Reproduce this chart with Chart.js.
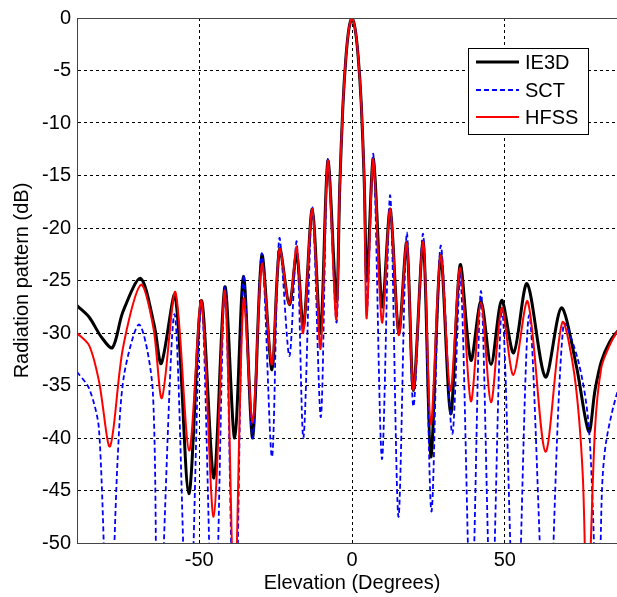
<!DOCTYPE html>
<html>
<head>
<meta charset="utf-8">
<script src="https://cdn.jsdelivr.net/npm/chart.js@4/dist/chart.umd.min.js"></script>
<style>
  html, body { margin: 0; padding: 0; background: #fff; overflow: hidden; }
  #wrap { width: 640px; height: 597px; }
</style>
</head>
<body>
<div id="wrap"><canvas id="c" width="640" height="597"></canvas></div>
<script>
'use strict';

// tick labels
var xTicks = [-50, 0, 50];
var yMin = -50, yMax = 0, yStep = 5;

// series as [elevation deg, dB]
var ie3d = [
  [-90,-27.4],[-86,-28.5],[-82,-30.4],[-78.4,-31.4],[-75,-28],[-69.2,-24.8],[-64.7,-29.3],[-62.4,-32.9],
  [-57.9,-26.4],[-53.4,-45.3],[-49.3,-26.9],[-45.2,-43.8],[-41.6,-25.6],[-38.4,-40],[-35.5,-24.6],
  [-32.5,-40],[-29.5,-22.6],[-26.2,-33.5],[-23.7,-22],[-20.5,-27.3],[-18.1,-22.4],[-15.9,-29.5],
  [-13,-18.2],[-10.3,-30],[-7.9,-13.6],[-5.1,-27],[-4,-16],[-3,-8.5],[-2,-3.8],[-1,-1],[0,0],
  [1,-1],[2,-3.6],[3,-8],[4,-15.5],[4.9,-25],[7,-13.4],[9.9,-27.5],[12.5,-18.2],[15.3,-30],
  [17.9,-21.4],[20.1,-35.5],[23.3,-21.3],[25.8,-41.8],[29,-22.6],[32.3,-37.7],[35.4,-23.5],
  [38.9,-32.6],[42.2,-27],[45.5,-33],[49,-26.9],[52.9,-31.9],[57.3,-25.3],[63.3,-34.2],
  [68.5,-27.6],[73.4,-33.1],[77.5,-39.4],[79.5,-35.5],[81.6,-32.7],[84.4,-30.8],[87,-29.8],[90,-29]
];
var sct = [
  [-90,-33.7],[-86,-35.3],[-82.8,-39.2],[-79.6,-62],[-76.7,-42],[-74.6,-34],[-69.6,-29.2],[-65.2,-35.5],
  [-63.5,-62],[-58.1,-28.2],[-53.5,-62],[-49.3,-26.9],[-45.2,-62],[-41.6,-25.6],[-38.4,-62],
  [-35.5,-24.6],[-32.5,-40],[-29.5,-22.4],[-26.2,-41.8],[-23.8,-21],[-20.5,-32.2],[-18.1,-21.3],
  [-15.9,-40],[-13,-18],[-10.2,-38],[-7.9,-13.4],[-5.1,-29],[-4,-16],[-3,-8.5],[-2,-3.8],[-1,-1],
  [0,0],[1,-1],[2,-3.6],[3,-8],[4,-15.5],[4.9,-28],[7,-13],[9.8,-42],[12.5,-16.9],[15.2,-47.5],
  [17.9,-20.5],[20.1,-37],[23.3,-20.6],[26,-47],[29,-21.7],[32.8,-39.6],[35.5,-24.5],[39,-58],
  [42.2,-26],[45.6,-58],[49.1,-27.7],[53.6,-62],[58,-28.3],[63.8,-62],[69.2,-29.2],[73.9,-32.5],
  [77.2,-38],[78.8,-46.6],[80.5,-62],[81.8,-45],[83.2,-40.3],[87,-35.5],[90,-34]
];
var hfss = [
  [-90,-30],[-86,-31.2],[-82.8,-34.6],[-79.2,-40.8],[-75,-31.5],[-69.1,-25.4],[-65,-29.5],[-62.2,-36.2],
  [-57.8,-26.1],[-53.3,-41.2],[-49.3,-26.9],[-45.3,-47.5],[-41.6,-26],[-38.5,-56],[-35.5,-26.8],
  [-32.5,-38.5],[-29.5,-23.4],[-26.2,-33],[-23.7,-22],[-20.5,-27.3],[-18.1,-21.8],[-16,-30],
  [-13,-18.2],[-10.3,-31.5],[-7.9,-13.6],[-5.2,-28.7],[-4,-16],[-3,-8.5],[-2,-3.8],[-1,-1],[0,0],
  [1,-1],[2,-3.6],[3,-8],[4,-15.5],[4.8,-28.6],[7,-13.4],[9.8,-29],[12.5,-18.2],[15.3,-30.2],
  [17.9,-21.4],[20.1,-35.5],[23.3,-21.3],[25.8,-38.7],[29,-22.6],[32.2,-35.5],[35.4,-23.8],
  [38.9,-36.5],[42.2,-27.1],[45.5,-36.6],[49,-27.6],[52.8,-34],[57.5,-27],[63.3,-41.3],[68.8,-29],
  [72.8,-34],[75.5,-43.4],[77,-58],[79.5,-39.3],[81.6,-33.3],[84.3,-31.2],[87,-29.8],[90,-29]
];

var FONT = '"Liberation Sans", Arial, Helvetica, sans-serif';

function toXY(arr) {
  return arr.map(function (p) { return { x: p[0], y: p[1] }; });
}

var series = [
  { label: 'IE3D', data: ie3d, color: '#000000', width: 3, dash: [], order: 3 },
  { label: 'SCT',  data: sct,  color: '#0000ff', width: 1.8, dash: [5, 3], order: 2 },
  { label: 'HFSS', data: hfss, color: '#ff0000', width: 2, dash: [], order: 1 }
];

// frame, legend box and axis titles
var decor = {
  id: 'decor',
  afterDatasetsDraw: function (chart) {
    var ctx = chart.ctx, a = chart.chartArea;
    ctx.save();
    ctx.strokeStyle = '#444';
    ctx.lineWidth = 1;
    ctx.strokeRect(a.left + 0.5, a.top + 0.5, a.right - a.left, a.bottom - a.top);
    ctx.restore();
  },
  afterDraw: function (chart) {
    var ctx = chart.ctx, a = chart.chartArea;
    ctx.save();
    // legend
    ctx.fillStyle = '#fff';
    ctx.fillRect(468, 48, 120, 86);
    ctx.strokeStyle = '#000';
    ctx.lineWidth = 1;
    ctx.strokeRect(468.5, 48.5, 120, 86);
    var rows = [62, 90, 117];
    series.forEach(function (s, i) {
      ctx.beginPath();
      ctx.strokeStyle = s.color;
      ctx.lineWidth = s.width;
      ctx.setLineDash(s.dash);
      ctx.moveTo(476, rows[i]);
      ctx.lineTo(519, rows[i]);
      ctx.stroke();
      ctx.setLineDash([]);
      ctx.fillStyle = '#000';
      ctx.font = '20px ' + FONT;
      ctx.textBaseline = 'middle';
      ctx.textAlign = 'left';
      ctx.fillText(s.label, 525, rows[i] + 1);
    });
    // axis titles
    ctx.fillStyle = '#000';
    ctx.font = '20px ' + FONT;
    ctx.textAlign = 'center';
    ctx.textBaseline = 'middle';
    ctx.fillText('Elevation (Degrees)', (a.left + a.right) / 2, 583);
    ctx.translate(22, (a.top + a.bottom) / 2);
    ctx.rotate(-Math.PI / 2);
    ctx.fillText('Radiation pattern (dB)', 0, 0);
    ctx.restore();
  }
};

new Chart(document.getElementById('c'), {
  type: 'line',
  data: {
    datasets: series.map(function (s) {
      return {
        label: s.label,
        data: toXY(s.data),
        borderColor: s.color,
        borderWidth: s.width,
        borderDash: s.dash,
        pointRadius: 0,
        fill: false,
        tension: 0.3,
        order: s.order
      };
    })
  },
  options: {
    responsive: false,
    animation: false,
    devicePixelRatio: 1,
    layout: { padding: { left: 0, top: 14, right: 13, bottom: 0 } },
    elements: { line: { capBezierPoints: false } },
    plugins: { legend: { display: false }, tooltip: { enabled: false } },
    scales: {
      x: {
        type: 'linear',
        min: -90,
        max: 90,
        afterBuildTicks: function (s) {
          s.ticks = xTicks.map(function (v) { return { value: v }; });
        },
        afterFit: function (s) { s.height = 54; },
        ticks: { color: '#000', font: { size: 20, family: FONT }, padding: 5, maxRotation: 0 },
        grid: { color: '#000', lineWidth: 1, drawTicks: false },
        border: { display: true, color: '#444', dash: [3, 3] }
      },
      y: {
        min: yMin,
        max: yMax,
        ticks: { stepSize: yStep, color: '#000', font: { size: 20, family: FONT }, padding: 6 },
        afterFit: function (s) { s.width = 77; },
        grid: { color: '#000', lineWidth: 1, drawTicks: false },
        border: { display: true, color: '#444', dash: [3, 3] }
      }
    }
  },
  plugins: [decor]
});
</script>
</body>
</html>
